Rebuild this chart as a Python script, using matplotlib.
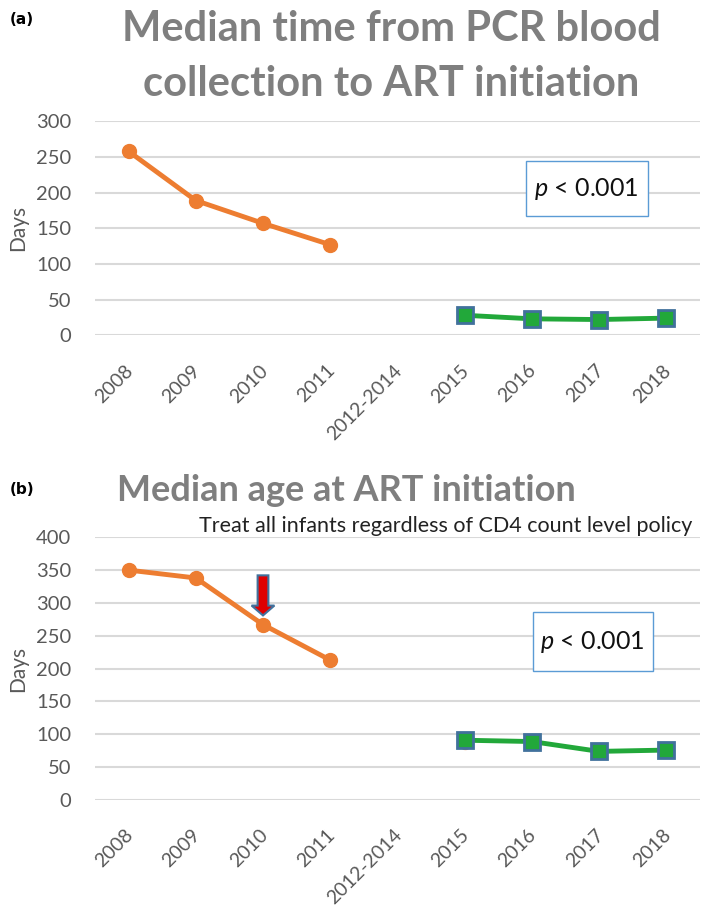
import numpy as np
import matplotlib.pyplot as plt
import matplotlib.transforms as mtransforms
from matplotlib.patches import FancyArrow, Rectangle

plt.rcParams['font.family'] = ['Lato', 'DejaVu Sans']
plt.rcParams['mathtext.fontset'] = 'custom'
plt.rcParams['mathtext.it'] = 'Lato:italic'
plt.rcParams['mathtext.rm'] = 'Lato'

years = ['2008', '2009', '2010', '2011', '2012-2014', '2015', '2016', '2017', '2018']
# panel (a): median time from PCR blood collection to ART initiation (days)
a_early = [258, 189, 157, 127]
a_late = [28, 23, 22, 24]
# panel (b): median age at ART initiation (days)
b_early = [350, 338, 267, 213]
b_late = [91, 89, 74, 76]
b_early_2015 = 88

orange = '#ed7d31'
green = '#22a83a'
edge = '#41719c'
gray = '#7f7f7f'
tick_gray = '#595959'

fig = plt.figure(figsize=(7.09, 9.06), dpi=100)

def style_axes(ax, ymax, step):
    ax.set_xlim(-0.5, len(years) - 0.5)
    ax.set_ylim(0, ymax)
    ax.set_yticks(np.arange(0, ymax + 1, step))
    ax.set_xticks(range(len(years)))
    ax.set_xticklabels(years, rotation=45, ha='right', va='top', rotation_mode='anchor')
    ax.tick_params(axis='x', length=0, labelsize=14, labelcolor=tick_gray, pad=19)
    ax.tick_params(axis='y', length=0, labelsize=14.5, labelcolor=tick_gray, pad=17)
    shift = mtransforms.ScaledTranslation(-3 / 72, 0, fig.dpi_scale_trans)
    for lab in ax.get_xticklabels():
        lab.set_transform(lab.get_transform() + shift)
    ax.grid(axis='y', color='#d9d9d9', linewidth=1.5)
    ax.set_axisbelow(True)
    for s in ax.spines.values():
        s.set_visible(False)
    ax.set_ylabel('Days', fontsize=15, color=tick_gray, labelpad=6)

def p_box(ax, x0, y0, w, h):
    ax.add_patch(Rectangle((x0, y0), w, h, transform=ax.transAxes, fc='white',
                           ec='#5b9bd5', lw=1, zorder=5))
    ax.text(x0 + w / 2, y0 + h / 2, r'$p$ < 0.001', fontsize=18, ha='center',
            va='center', color='#111111', transform=ax.transAxes, zorder=6)

# ---- panel (a)
ax1 = fig.add_axes([0.134, 0.630, 0.853, 0.236])
style_axes(ax1, 300, 50)
ax1.plot(range(4), a_early, color=orange, lw=3.5, marker='o', ms=10, zorder=3)
ax1.plot(range(5, 9), a_late, color=green, lw=3.5, marker='s', ms=11,
         mfc=green, mec=edge, mew=2, zorder=3)
p_box(ax1, 0.712, 0.556, 0.202, 0.257)
fig.text(0.552, 0.938, 'Median time from PCR blood\ncollection to ART initiation',
         ha='center', va='center', fontsize=30, fontweight='bold', color=gray,
         linespacing=1.55)
fig.text(0.014, 0.978, '(a)', fontsize=11, fontweight='bold', family=['DejaVu Sans'],
         va='center')

# ---- panel (b)
ax2 = fig.add_axes([0.134, 0.117, 0.853, 0.290])
style_axes(ax2, 400, 50)
ax2.plot(range(4), b_early, color=orange, lw=3.5, marker='o', ms=10, zorder=3)
ax2.plot([5], [b_early_2015], color=orange, marker='o', ms=10, zorder=3)
ax2.plot(range(5, 9), b_late, color=green, lw=3.5, marker='s', ms=11,
         mfc=green, mec=edge, mew=2, zorder=4)
p_box(ax2, 0.724, 0.490, 0.198, 0.224)
ax2.text(1.05, 402, 'Treat all infants regardless of CD4 count level policy',
         fontsize=15.5, color='#222222', ha='left', va='bottom', clip_on=False)
ax2.add_patch(FancyArrow(2, 342, 0, -61, width=0.16, head_width=0.34,
                         head_length=15, length_includes_head=True,
                         fc='#e00000', ec=edge, lw=1.5, zorder=5))
fig.text(0.488, 0.459, 'Median age at ART initiation',
         ha='center', va='center', fontsize=26, fontweight='bold', color=gray)
fig.text(0.014, 0.460, '(b)', fontsize=11, fontweight='bold', family=['DejaVu Sans'],
         va='center')

fig.savefig('out.png', dpi=100)
